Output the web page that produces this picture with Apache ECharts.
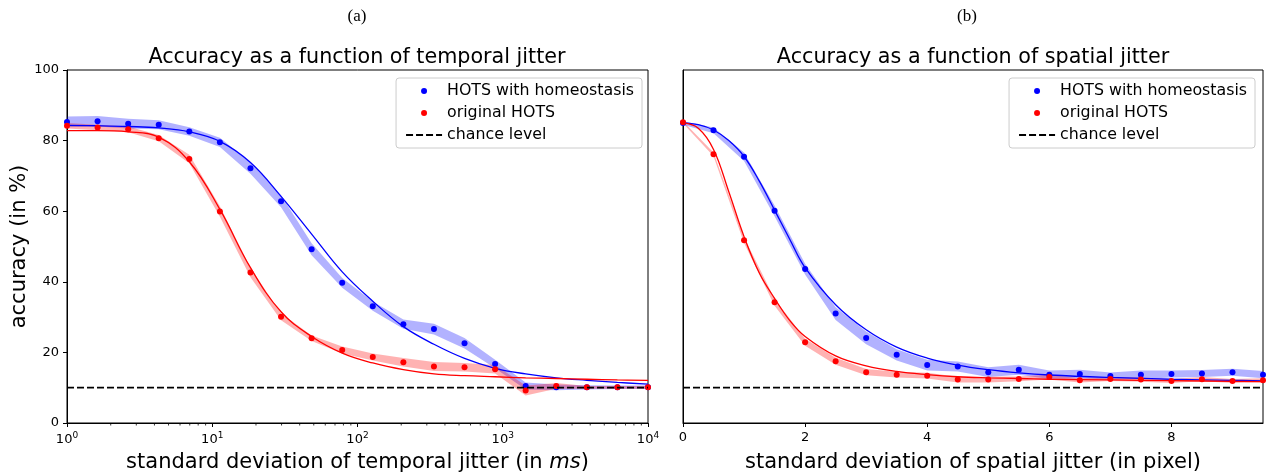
<!DOCTYPE html>
<html><head><meta charset="utf-8">
<script src="https://cdn.jsdelivr.net/npm/echarts@6/dist/echarts.min.js"></script>
<style>html,body{margin:0;padding:0;background:#fff}#c{width:1270px;height:475px}</style>
</head><body><div id="c"></div>
<script>
// ---- Panel (a): temporal jitter (log x) ----
const temporalX = [1, 1.624, 2.637, 4.281, 6.952, 11.29, 18.33, 29.76, 48.33, 78.48, 127.4, 206.9, 336.0, 545.6, 885.9, 1438, 2336, 3793, 6158, 10000];
const blueTemporal = [85.3, 85.5, 84.8, 84.5, 82.6, 79.5, 72.2, 62.8, 49.2, 39.7, 33.1, 28.0, 26.6, 22.6, 16.7, 10.5, 10.1, 10.1, 10.1, 10.1];
const redTemporal  = [84.2, 83.7, 83.2, 80.7, 74.8, 59.9, 42.6, 30.1, 24.0, 20.7, 18.7, 17.2, 16.0, 15.8, 15.2, 9.2, 10.5, 10.1, 10.1, 10.1];
const blueTemporalErr = [1.5, 1.5, 1.4, 1.3, 1.2, 1.3, 1.6, 1.7, 1.7, 1.4, 1.3, 1.3, 1.5, 1.5, 1.2, 1.0, 0.8, 0.6, 0.5, 0.5];
const redTemporalErr  = [0.8, 0.8, 0.8, 0.9, 1.2, 1.5, 1.3, 1.0, 0.8, 1.0, 1.0, 1.2, 1.3, 1.2, 1.2, 1.4, 0.8, 0.4, 0.4, 0.4];
const blueTemporalFit = [84.3, 84.2, 84.0, 83.6, 82.5, 79.8, 73.8, 64.2, 53.5, 42.8, 34.5, 27.3, 22.3, 18.3, 15.5, 13.9, 12.8, 12.1, 11.5, 11.0];
const redTemporalFit  = [82.8, 82.8, 82.5, 81.0, 74.0, 60.5, 44.0, 31.5, 24.5, 19.8, 17.0, 15.1, 13.9, 13.4, 13.1, 12.8, 12.6, 12.4, 12.2, 12.1];
const temporalMajorTicks = [1, 10, 100, 1000, 10000];
const temporalMinorTicks = [2,3,4,5,6,7,8,9, 20,30,40,50,60,70,80,90, 200,300,400,500,600,700,800,900, 2000,3000,4000,5000,6000,7000,8000,9000];

// ---- Panel (b): spatial jitter (linear x) ----
const spatialX = [0, 0.5, 1.0, 1.5, 2.0, 2.5, 3.0, 3.5, 4.0, 4.5, 5.0, 5.5, 6.0, 6.5, 7.0, 7.5, 8.0, 8.5, 9.0, 9.5];
const blueSpatial = [85.0, 82.9, 75.4, 60.1, 43.6, 31.0, 24.1, 19.3, 16.4, 16.0, 14.4, 15.1, 13.7, 13.9, 13.3, 13.7, 13.9, 14.0, 14.4, 13.7];
const redSpatial  = [85.2, 76.1, 51.8, 34.2, 22.9, 17.5, 14.4, 13.7, 13.4, 12.3, 12.3, 12.5, 13.0, 12.1, 12.5, 12.3, 11.9, 12.4, 11.9, 12.1];
const blueSpatialErr = [0.5, 0.8, 1.2, 1.5, 1.5, 1.8, 1.8, 1.6, 1.5, 1.4, 1.4, 1.4, 1.2, 1.2, 1.0, 1.2, 1.0, 1.0, 1.0, 1.0];
const redSpatialErr  = [0.3, 0.5, 0.8, 1.0, 1.0, 1.0, 0.9, 0.8, 0.8, 0.8, 0.8, 0.7, 0.7, 0.6, 0.6, 0.6, 0.6, 0.6, 0.6, 0.6];
const spatialFitX = [0, 0.25, 0.5, 0.75, 1.0, 1.25, 1.5, 1.75, 2.0, 2.5, 3.0, 3.5, 4.0, 4.5, 5.0, 5.5, 6.0, 7.0, 8.0, 9.0, 9.5];
const blueSpatialFit = [85.0, 84.5, 83.0, 80.0, 75.5, 68.5, 60.3, 52.0, 44.0, 33.5, 26.4, 21.5, 18.4, 16.4, 15.1, 14.2, 13.6, 12.9, 12.4, 12.1, 11.9];
const redSpatialFit  = [85.0, 83.5, 77.5, 65.5, 52.8, 42.5, 35.3, 29.0, 24.5, 19.0, 16.2, 14.6, 13.7, 13.1, 12.8, 12.6, 12.4, 12.2, 12.0, 11.8, 11.7];
const spatialTicks = [0, 2, 4, 6, 8];

const chanceLevel = 10;

const BLUE = '#0000ff', RED = '#ff0000';
const FONT = 'DejaVu Sans';

function zip(xs, ys) { return xs.map((x, i) => [x, ys[i]]); }

function bandSeries(name, xs, ys, err, fill, gi) {
  const data = xs.map((x, i) => [x, ys[i] - err[i], ys[i] + err[i]]);
  return {
    type: 'custom', name: name + ' band', xAxisIndex: gi, yAxisIndex: gi, silent: true, z: 1,
    data: data, encode: { x: 0, y: [1, 2] },
    renderItem: function (params, api) {
      if (params.dataIndex !== 0) return null;
      const pts = [];
      for (let i = 0; i < data.length; i++) pts.push(api.coord([data[i][0], data[i][2]]));
      for (let i = data.length - 1; i >= 0; i--) pts.push(api.coord([data[i][0], data[i][1]]));
      return { type: 'polygon', shape: { points: pts }, style: { fill: fill, stroke: null } };
    }
  };
}
function fitSeries(name, xs, ys, color, gi) {
  return { type: 'line', name: name + ' fit', xAxisIndex: gi, yAxisIndex: gi, data: zip(xs, ys),
    smooth: 0.4, showSymbol: false, symbol: 'none', silent: true, z: 2,
    lineStyle: { color: color, width: 1.3 } };
}
function dotSeries(name, xs, ys, color, gi) {
  return { type: 'scatter', name: name, xAxisIndex: gi, yAxisIndex: gi, data: zip(xs, ys),
    symbolSize: 6, itemStyle: { color: color, opacity: 1 }, z: 3, silent: true };
}
function chanceSeries(gi, x0, x1) {
  return { type: 'line', name: 'chance level', xAxisIndex: gi, yAxisIndex: gi,
    data: [[x0, chanceLevel], [x1, chanceLevel]], symbol: 'none', showSymbol: false, silent: true, z: 4,
    itemStyle: { color: '#000' },
    lineStyle: { color: '#000', width: 1.8, type: [7, 3] } };
}

const minorTickSeries = {
  type: 'custom', xAxisIndex: 0, yAxisIndex: 0, silent: true, clip: false, z: 5,
  data: temporalMinorTicks.map(v => [v, 0]),
  renderItem: function (params, api) {
    const p = api.coord([api.value(0), 0]);
    return { type: 'line', shape: { x1: p[0], y1: p[1], x2: p[0], y2: p[1] + 2.5 },
      style: { stroke: '#000', lineWidth: 0.8 } };
  }
};

const axisCommon = {
  axisLine: { show: true, lineStyle: { color: '#000', width: 1 } },
  axisTick: { show: true, length: 4, lineStyle: { color: '#000', width: 1 } },
  splitLine: { show: false },
  axisLabel: { color: '#000', fontFamily: FONT, fontSize: 13 }
};

const legendCommon = {
  orient: 'vertical', top: 78,
  data: [
    'HOTS with homeostasis',
    'original HOTS',
    { name: 'chance level', itemStyle: { color: 'rgba(0,0,0,0)', borderWidth: 0, opacity: 0 } }
  ],
  itemWidth: 36, itemHeight: 6, itemGap: 4, padding: [4, 8, 4, 9],
  borderColor: '#cccccc', borderWidth: 1, borderRadius: 3, backgroundColor: '#fff',
  textStyle: { color: '#000', fontFamily: FONT, fontSize: 15.8, lineHeight: 18 },
  selectedMode: false
};

const gridCommon = { top: 70, height: 353, show: true, borderColor: '#000', borderWidth: 1,
  backgroundColor: 'transparent', containLabel: false, outerBoundsMode: 'none' };

const option = {
  animation: false,
  backgroundColor: '#fff',
  title: [
    { text: '(a)', left: 352, top: 3, textAlign: 'center', textStyle: { fontFamily: 'Liberation Serif', fontSize: 17, fontWeight: 'normal', color: '#000' } },
    { text: '(b)', left: 962, top: 3, textAlign: 'center', textStyle: { fontFamily: 'Liberation Serif', fontSize: 17, fontWeight: 'normal', color: '#000' } },
    { text: 'Accuracy as a function of temporal jitter', left: 352, top: 42, textAlign: 'center', textStyle: { fontFamily: FONT, fontSize: 20.7, fontWeight: 'normal', color: '#000' } },
    { text: 'Accuracy as a function of spatial jitter', left: 968, top: 42, textAlign: 'center', textStyle: { fontFamily: FONT, fontSize: 20.7, fontWeight: 'normal', color: '#000' } }
  ],
  legend: [
    Object.assign({}, legendCommon, { right: 1270 - 642 }),
    Object.assign({}, legendCommon, { right: 15 })
  ],
  grid: [
    Object.assign({}, gridCommon, { left: 67, width: 581 }),
    Object.assign({}, gridCommon, { left: 683, width: 580 })
  ],
  xAxis: [
    Object.assign({}, axisCommon, {
      type: 'log', logBase: 10, gridIndex: 0, min: temporalMajorTicks[0], max: temporalMajorTicks[temporalMajorTicks.length - 1],
      axisLabel: { color: '#000', fontFamily: FONT, fontSize: 13, margin: 8,
        formatter: function (v) { return '10{sup|' + Math.round(Math.log10(v)) + '}'; },
        rich: { sup: { fontSize: 9, fontFamily: FONT, color: '#000', padding: [0, 0, 8, 0] } } },
      name: 'standard deviation of temporal jitter (in {i|ms})', nameLocation: 'middle', nameGap: 29,
      nameTextStyle: { color: '#000', fontFamily: FONT, fontSize: 21,
        rich: { i: { fontStyle: 'italic', fontFamily: FONT, fontSize: 21, color: '#000' } } }
    }),
    Object.assign({}, axisCommon, {
      type: 'value', gridIndex: 1, min: 0, max: 9.5,
      axisTick: { show: true, length: 4, customValues: spatialTicks, lineStyle: { color: '#000', width: 1 } },
      axisLabel: { color: '#000', fontFamily: FONT, fontSize: 13, margin: 8, customValues: spatialTicks },
      name: 'standard deviation of spatial jitter (in pixel)', nameLocation: 'middle', nameGap: 29,
      nameTextStyle: { color: '#000', fontFamily: FONT, fontSize: 21 }
    })
  ],
  yAxis: [
    Object.assign({}, axisCommon, {
      type: 'value', gridIndex: 0, min: 0, max: 100, interval: 20,
      name: 'accuracy (in %)', nameLocation: 'middle', nameGap: 34,
      nameTextStyle: { color: '#000', fontFamily: FONT, fontSize: 21 }
    }),
    Object.assign({}, axisCommon, {
      type: 'value', gridIndex: 1, min: 0, max: 100, interval: 20,
      axisLabel: { show: false }, axisTick: { show: false }
    })
  ],
  series: [
    bandSeries('HOTS with homeostasis', temporalX, blueTemporal, blueTemporalErr, 'rgba(0,0,255,0.3)', 0),
    bandSeries('original HOTS', temporalX, redTemporal, redTemporalErr, 'rgba(255,0,0,0.3)', 0),
    fitSeries('HOTS with homeostasis', temporalX, blueTemporalFit, BLUE, 0),
    fitSeries('original HOTS', temporalX, redTemporalFit, RED, 0),
    dotSeries('HOTS with homeostasis', temporalX, blueTemporal, BLUE, 0),
    dotSeries('original HOTS', temporalX, redTemporal, RED, 0),
    chanceSeries(0, temporalMajorTicks[0], temporalMajorTicks[temporalMajorTicks.length - 1]),
    minorTickSeries,

    bandSeries('HOTS with homeostasis', spatialX, blueSpatial, blueSpatialErr, 'rgba(0,0,255,0.3)', 1),
    bandSeries('original HOTS', spatialX, redSpatial, redSpatialErr, 'rgba(255,0,0,0.3)', 1),
    fitSeries('HOTS with homeostasis', spatialFitX, blueSpatialFit, BLUE, 1),
    fitSeries('original HOTS', spatialFitX, redSpatialFit, RED, 1),
    dotSeries('HOTS with homeostasis', spatialX, blueSpatial, BLUE, 1),
    dotSeries('original HOTS', spatialX, redSpatial, RED, 1),
    chanceSeries(1, 0, 9.5)
  ]
};

const chart = echarts.init(document.getElementById('c'));
chart.setOption(option);
</script>
</body></html>
